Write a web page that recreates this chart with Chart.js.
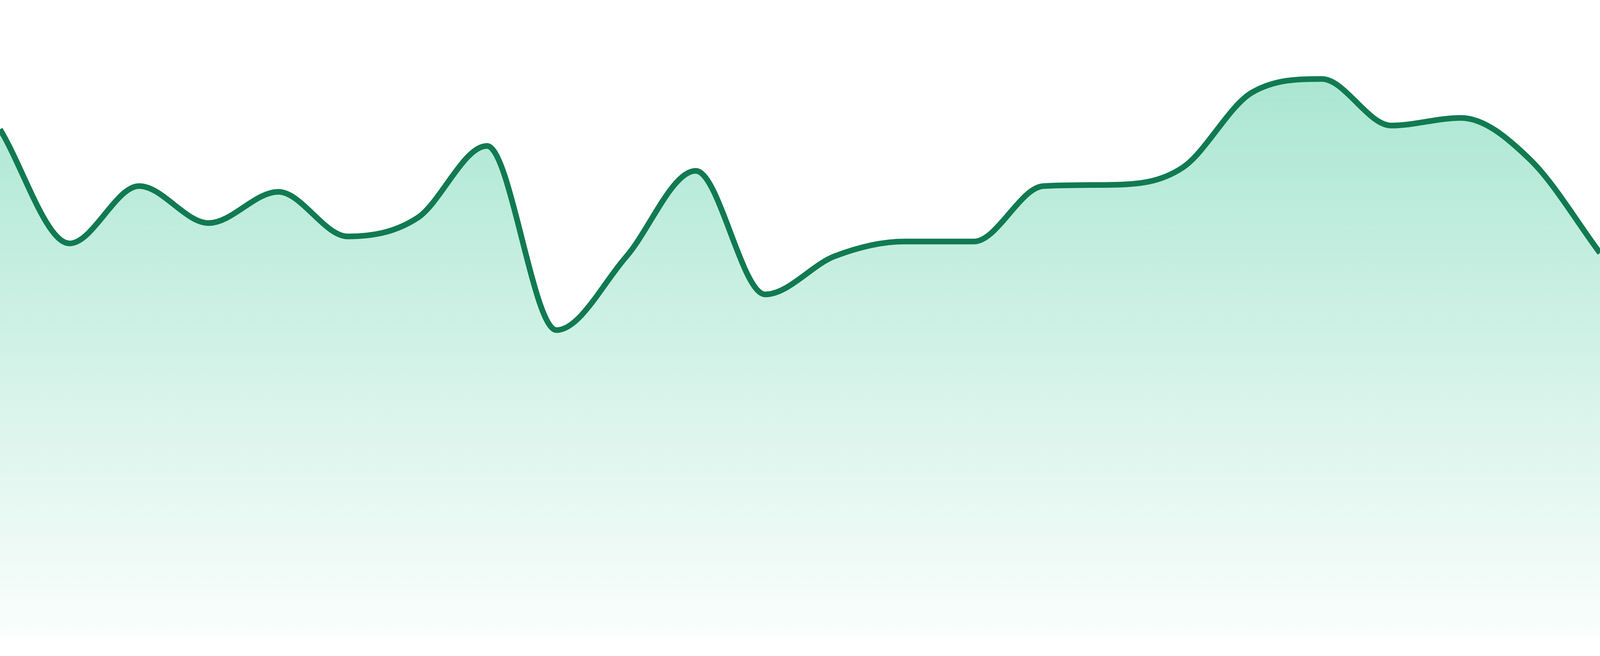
<!DOCTYPE html>
<html>
<head>
<meta charset="utf-8">
<script src="https://cdn.jsdelivr.net/npm/chart.js@4"></script>
<style>
  html, body { margin: 0; padding: 0; background: #ffffff; overflow: hidden; }
  #wrap { position: relative; width: 100vw; height: 100vh; }
</style>
</head>
<body>
<div id="wrap"><canvas id="c"></canvas></div>
<script>
const labels = ["1","2","3","4","5","6","7","8","9","10","11","12","13","14","15","16","17","18","19","20","21","22","23","24"];
const values = [79.7, 61.8, 70.8, 65.0, 69.9, 62.9, 65.8, 77.1, 48.2, 59.7, 73.2, 53.8, 59.8, 62.1, 62.1, 70.8, 71.0, 73.7, 85.5, 87.6, 80.3, 81.5, 74.9, 60.3];
const yMin = 0;
const yMax = 100;

const lineColor = "rgb(17,122,82)";

function fillGradient(context) {
  const chart = context.chart;
  const area = chart.chartArea;
  if (!area) return "rgba(16,185,129,0.2)";
  const g = chart.ctx.createLinearGradient(0, area.top, 0, area.bottom);
  g.addColorStop(0, "rgba(16,185,129,0.40)");
  g.addColorStop(1, "rgba(16,185,129,0.02)");
  return g;
}

new Chart(document.getElementById("c"), {
  type: "line",
  data: {
    labels: labels,
    datasets: [{
      data: values,
      borderColor: lineColor,
      borderWidth: (ctx) => ctx.chart.height * 14.5 / 1680,
      backgroundColor: fillGradient,
      fill: "start",
      pointRadius: 0,
      pointHoverRadius: 0,
      cubicInterpolationMode: "monotone"
    }]
  },
  options: {
    responsive: true,
    maintainAspectRatio: false,
    animation: false,
    layout: {
      padding: (ctx) => ({ left: 0, right: 0, top: 0, bottom: ctx.chart.height * 48 / 1680 })
    },
    plugins: { legend: { display: false }, tooltip: { enabled: false }, title: { display: false } },
    scales: {
      x: { display: false, offset: false },
      y: { display: false, min: yMin, max: yMax }
    }
  }
});
</script>
</body>
</html>
